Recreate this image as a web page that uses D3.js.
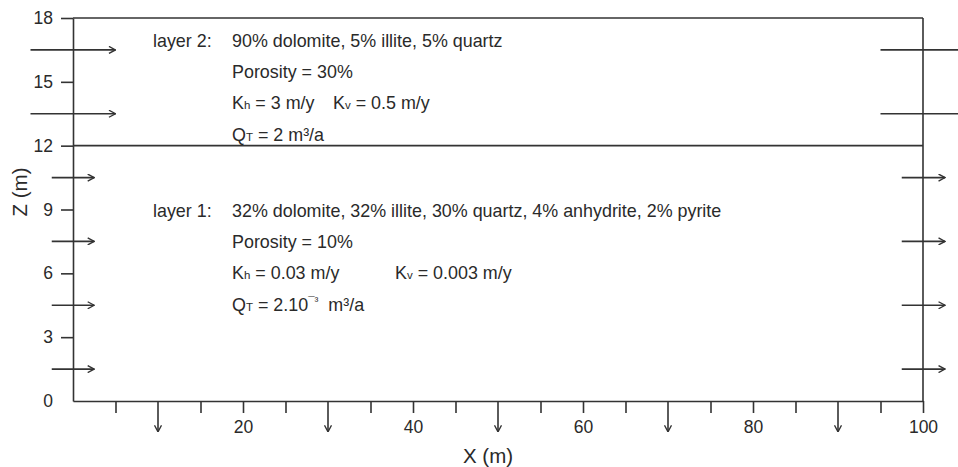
<!DOCTYPE html>
<html lang="en">
<head>
    <meta charset="UTF-8">
    <title>Layer model</title>
    <style>
        body{
            margin: 0;
            background: white;
        }
        svg{
            font-family: "Liberation Sans", Arial, sans-serif;
        }
        .axis text{
            font-size: 17.5px;
            fill: #2a2a2a;
        }
        .axis line, .axis path{
            stroke: #333;
            stroke-width: 1.6px;
        }
        .frame{
            stroke: #333;
            stroke-width: 1.6px;
            fill: none;
        }
        .flow{
            stroke: #333;
            stroke-width: 1.6px;
            fill: none;
        }
        .note{
            font-size: 17.9px;
            fill: #2a2a2a;
            white-space: pre;
        }
        .label{
            font-size: 20.5px;
            fill: #2a2a2a;
            text-anchor: middle;
        }
    </style>
    <script src="https://d3js.org/d3.v7.min.js"></script>
</head>
<body>
<svg id="figure" width="958" height="467"></svg>
<script>
    // axis values
    let yTicks = [0, 3, 6, 9, 12, 15, 18]
    let xTicks = [5, 15, 20, 25, 35, 40, 45, 55, 60, 65, 75, 80, 85, 95, 100]
    let xLabelled = [20, 40, 60, 80, 100]

    // boundary between the two layers (m)
    let layerTop = 12
    // inflow arrows on the left, z (m)
    let inflowUpper = [16.5, 13.5]
    let inflowLower = [10.5, 7.5, 4.5, 1.5]
    // outflow at bottom, x (m)
    let outflowX = [10, 30, 50, 70, 90]

    // annotation texts; s = small (subscript), p = superscript
    let layer2Lines = [
        [{t: "90% dolomite, 5% illite, 5% quartz"}],
        [{t: "Porosity = 30%"}],
        [{t: "K"}, {t: "h", s: 1}, {t: " = 3 m/y"}, {t: "K", tab: 1}, {t: "v", s: 1}, {t: " = 0.5 m/y"}],
        [{t: "Q"}, {t: "T", s: 1}, {t: " = 2 m³/a"}]
    ]
    let layer1Lines = [
        [{t: "32% dolomite, 32% illite, 30% quartz, 4% anhydrite, 2% pyrite"}],
        [{t: "Porosity = 10%"}],
        [{t: "K"}, {t: "h", s: 1}, {t: " = 0.03 m/y"}, {t: "K", tab: 1}, {t: "v", s: 1}, {t: " = 0.003 m/y"}],
        [{t: "Q"}, {t: "T", s: 1}, {t: " = 2.10"}, {t: "¯³", p: 1}, {t: "  m³/a", back: 1}]
    ]

    let svg = d3.select("#figure")
    let x = d3.scaleLinear().domain([0, 100]).range([73, 923])
    let y = d3.scaleLinear().domain([0, 18]).range([401, 18])

    // arrow head
    svg.append("defs").append("marker")
        .attr("id", "head")
        .attr("viewBox", "0 0 10 10")
        .attr("refX", 9.2).attr("refY", 5)
        .attr("markerWidth", 8).attr("markerHeight", 8)
        .attr("markerUnits", "userSpaceOnUse")
        .attr("orient", "auto")
        .append("path")
        .attr("d", "M1,0.6 L9.2,5 L1,9.4")
        .attr("fill", "none")
        .attr("stroke", "#333")
        .attr("stroke-width", 1.7)

    // frame: top and right, layer boundary
    svg.append("line").attr("class", "frame")
        .attr("x1", x(0)).attr("x2", x(100)).attr("y1", y(18)).attr("y2", y(18))
    svg.append("line").attr("class", "frame")
        .attr("x1", x(100)).attr("x2", x(100)).attr("y1", y(18)).attr("y2", y(0))
    svg.append("line").attr("class", "frame")
        .attr("x1", x(0)).attr("x2", x(100)).attr("y1", y(layerTop)).attr("y2", y(layerTop))

    // Y Axis
    svg.append("g").attr("class", "axis")
        .attr("transform", `translate(${x(0)},0)`)
        .call(d3.axisLeft(y).tickValues(yTicks).tickSize(12).tickSizeOuter(0).tickPadding(8))
        .call(g => g.selectAll(".tick").filter(d => d === 0).select("line").remove())

    // X Axis
    svg.append("g").attr("class", "axis")
        .attr("transform", `translate(0,${y(0)})`)
        .call(d3.axisBottom(x).tickValues(xTicks).tickSize(12).tickSizeOuter(0).tickPadding(8)
            .tickFormat(d => xLabelled.includes(d) ? d : ""))

    svg.selectAll(".axis text").attr("font-family", null).attr("font-size", null)

    // inflow arrows
    svg.selectAll(".inUpper").data(inflowUpper).enter()
        .append("line").attr("class", "flow")
        .attr("x1", x(-5)).attr("x2", x(5))
        .attr("y1", d => y(d)).attr("y2", d => y(d))
        .attr("marker-end", "url(#head)")
    svg.selectAll(".inLower").data(inflowLower).enter()
        .append("line").attr("class", "flow")
        .attr("x1", x(-2.5)).attr("x2", x(2.5))
        .attr("y1", d => y(d)).attr("y2", d => y(d))
        .attr("marker-end", "url(#head)")
    // right side: lines in upper layer, arrows in lower layer
    svg.selectAll(".outUpper").data(inflowUpper).enter()
        .append("line").attr("class", "flow")
        .attr("x1", x(95)).attr("x2", x(106))
        .attr("y1", d => y(d)).attr("y2", d => y(d))
    svg.selectAll(".outLower").data(inflowLower).enter()
        .append("line").attr("class", "flow")
        .attr("x1", x(97.5)).attr("x2", x(102.6))
        .attr("y1", d => y(d)).attr("y2", d => y(d))
        .attr("marker-end", "url(#head)")
    // bottom outflow
    svg.selectAll(".down").data(outflowX).enter()
        .append("line").attr("class", "flow")
        .attr("x1", d => x(d)).attr("x2", d => x(d))
        .attr("y1", y(0)).attr("y2", y(-1.45))
        .attr("marker-end", "url(#head)")

    // axis labels
    svg.append("text").attr("class", "label")
        .attr("x", 488).attr("y", 463).text("X (m)")
    svg.append("text").attr("class", "label")
        .attr("transform", "translate(27,192) rotate(-90)").text("Z (m)")

    // annotations
    function block(lines, title, top, kvX) {
        svg.append("text").attr("class", "note")
            .attr("x", 153).attr("y", top).text(title)
        lines.forEach(function (segs, i) {
            let t = svg.append("text").attr("class", "note")
                .attr("x", 232).attr("y", top + i * 31.2)
            segs.forEach(function (s) {
                let sp = t.append("tspan").text(s.t)
                if (s.tab) sp.attr("x", kvX)
                if (s.s) sp.attr("font-size", 11.5)
                if (s.p) sp.attr("font-size", 11.5).attr("dy", -6)
                if (s.back) sp.attr("dy", 6)
            })
        })
    }
    block(layer2Lines, "layer 2:", 47, 333)
    block(layer1Lines, "layer 1:", 217, 395)
</script>
</body>
</html>
